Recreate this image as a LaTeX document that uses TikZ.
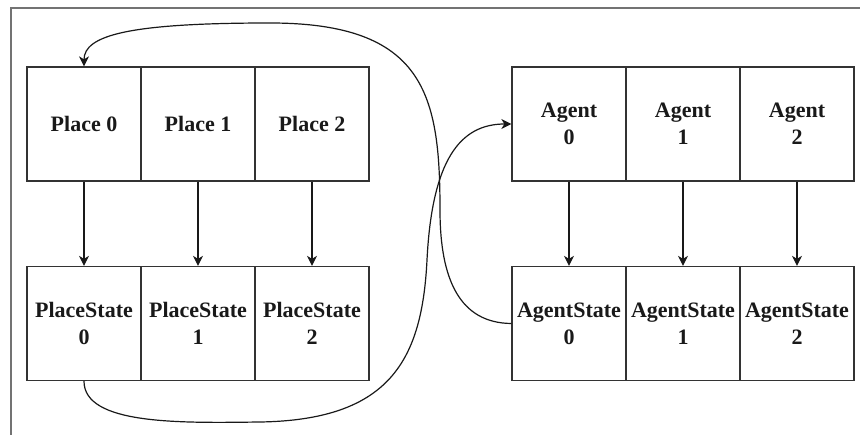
\documentclass[tikz,border=0pt]{standalone}
\usepackage{fontspec}
\setmainfont{Liberation Serif}
\usetikzlibrary{arrows.meta}
\begin{document}
\begin{tikzpicture}[x=1pt,y=-1pt,
  cell/.style={draw=black!80, line width=1.3pt, minimum width=114pt, minimum height=114pt, inner sep=0pt,
    font=\fontsize{22pt}{27pt}\selectfont\bfseries, align=center, text=black!90},
  conn/.style={line width=1.2pt, black!90},
  arr/.style={conn, -{Stealth[length=10pt,width=10pt,inset=3pt]}}]
\useasboundingbox (0,0) rectangle (860,435);
\draw[gray!90!black, line width=1.6pt] (11,435) -- (11,8) -- (860,8);
\node[cell] (p0) at (84,124) {Place 0};
\node[cell] (p1) at (198,124) {Place 1};
\node[cell] (p2) at (312,124) {Place 2};
\node[cell] (ps0) at (84,323.5) {PlaceState\\0};
\node[cell] (ps1) at (198,323.5) {PlaceState\\1};
\node[cell] (ps2) at (312,323.5) {PlaceState\\2};
\node[cell] (a0) at (569,124) {Agent\\0};
\node[cell] (a1) at (683,124) {Agent\\1};
\node[cell] (a2) at (797,124) {Agent\\2};
\node[cell] (as0) at (569,323.5) {AgentState\\0};
\node[cell] (as1) at (683,323.5) {AgentState\\1};
\node[cell] (as2) at (797,323.5) {AgentState\\2};
\foreach \i in {0,1,2}{
  \draw[arr] (p\i) -- (ps\i);
  \draw[arr] (a\i) -- (as\i);
}
\coordinate (w1) at (440,210);
\coordinate (w2) at (270,23);
\draw[arr] (as0.west) .. controls (460,323) and (440,280) .. (w1)
  .. controls (440,95) and (425,23) .. (w2)
  .. controls (130,23) and (84,35) .. (p0.north);
\coordinate (v1) at (260,422);
\coordinate (v2) at (427,260);
\draw[arr] (ps0.south) .. controls (84,425) and (180,423) .. (v1)
  .. controls (390,420) and (422,360) .. (v2)
  .. controls (432,160) and (460,124) .. (a0.west);
\end{tikzpicture}
\end{document}
